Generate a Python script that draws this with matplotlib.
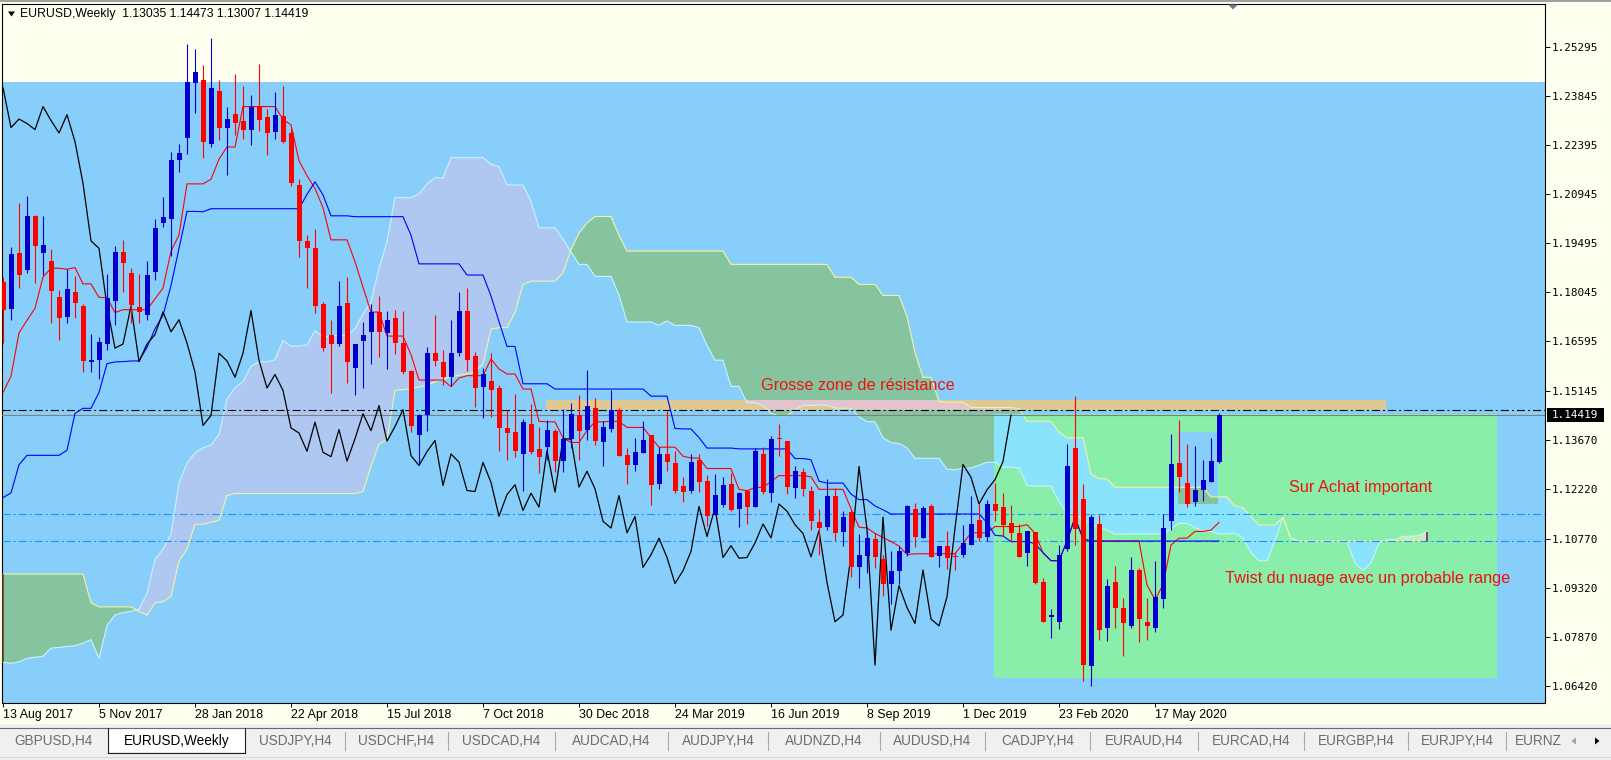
import numpy as np
import pandas as pd
import matplotlib
matplotlib.use("Agg")
import matplotlib.pyplot as plt
import matplotlib.transforms as mtransforms
from matplotlib.patches import Rectangle, Polygon
from matplotlib.lines import Line2D

plt.rcParams["font.family"] = ["Liberation Sans", "DejaVu Sans"]
plt.rcParams["lines.scale_dashes"] = False

W, H = 1611, 760

# EURUSD weekly candles, first bar = week of 13 Aug 2017
first_week = "2017-08-13"
opens = [
    1.1835, 1.1755, 1.1920, 1.1870, 1.2030, 1.1922, 1.1896, 1.1791, 1.1731, 1.1807,
    1.1763, 1.1599, 1.1606, 1.1651, 1.1780, 1.1925, 1.1862, 1.1762, 1.1738, 1.1864,
    1.2011, 1.2023, 1.2196, 1.2261, 1.2425, 1.2434, 1.2242, 1.2400, 1.2292, 1.2333,
    1.2312, 1.2286, 1.2352, 1.2322, 1.2280, 1.2327, 1.2276, 1.2123, 1.1957, 1.1935,
    1.1770, 1.1679, 1.1652, 1.1772, 1.1582, 1.1660, 1.1688, 1.1747, 1.1685, 1.1730,
    1.1656, 1.1571, 1.1382, 1.1441, 1.1625, 1.1598, 1.1554, 1.1625, 1.1751, 1.1618,
    1.1525, 1.1544, 1.1522, 1.1404, 1.1391, 1.1327, 1.1416, 1.1342, 1.1347, 1.1396,
    1.1306, 1.1372, 1.1441, 1.1398, 1.1463, 1.1362, 1.1401, 1.1456, 1.1325, 1.1293,
    1.1331, 1.1382, 1.1237, 1.1327, 1.1301, 1.1231, 1.1217, 1.1310, 1.1248, 1.1148,
    1.1177, 1.1238, 1.1165, 1.1217, 1.1170, 1.1327, 1.1211, 1.1374, 1.1364, 1.1226,
    1.1273, 1.1219, 1.1127, 1.1110, 1.1204, 1.1096, 1.1155, 1.0992, 1.1026, 1.1076,
    1.1016, 1.0944, 1.0982, 1.1033, 1.1164, 1.1080, 1.1174, 1.1024, 1.1056, 1.1024,
    1.1029, 1.1059, 1.1132, 1.1083, 1.1179, 1.1171, 1.1123, 1.1093, 1.1033, 1.1097,
    1.0949, 1.0844, 1.0829, 1.1046, 1.1345, 1.1194, 1.0701, 1.1120, 1.0814, 1.0949,
    1.0871, 1.0819, 1.0984, 1.0831, 1.0812, 1.0897, 1.1130, 1.1301, 1.1241, 1.1184,
    1.1221, 1.1244, 1.13035,
]
highs = [
    1.1850, 1.1939, 1.2069, 1.2091, 1.2032, 1.2030, 1.1932, 1.1811, 1.1874, 1.1852,
    1.1770, 1.1683, 1.1673, 1.1859, 1.1942, 1.1959, 1.1876, 1.1859, 1.1898, 1.2023,
    1.2087, 1.2219, 1.2242, 1.2538, 1.2524, 1.2477, 1.2556, 1.2434, 1.2354, 1.2449,
    1.2416, 1.2389, 1.2480, 1.2347, 1.2398, 1.2414, 1.2290, 1.2139, 1.1975, 1.1992,
    1.1775, 1.1724, 1.1837, 1.1850, 1.1652, 1.1718, 1.1769, 1.1793, 1.1749, 1.1754,
    1.1749, 1.1575, 1.1446, 1.1643, 1.1737, 1.1635, 1.1724, 1.1805, 1.1819, 1.1628,
    1.1580, 1.1625, 1.1530, 1.1458, 1.1503, 1.1430, 1.1475, 1.1406, 1.1428, 1.1400,
    1.1460, 1.1477, 1.1500, 1.1574, 1.1493, 1.1424, 1.1517, 1.1464, 1.1345, 1.1375,
    1.1424, 1.1382, 1.1347, 1.1453, 1.1335, 1.1260, 1.1327, 1.1327, 1.1266, 1.1268,
    1.1258, 1.1270, 1.1214, 1.1217, 1.1345, 1.1347, 1.1381, 1.1416, 1.1366, 1.1290,
    1.1286, 1.1231, 1.1165, 1.1253, 1.1227, 1.1158, 1.1160, 1.1089, 1.1095, 1.1093,
    1.1029, 1.1041, 1.1054, 1.1176, 1.1181, 1.1174, 1.1179, 1.1056, 1.1100, 1.1036,
    1.1118, 1.1204, 1.1179, 1.1192, 1.1241, 1.1211, 1.1177, 1.1120, 1.1100, 1.1097,
    1.0960, 1.0869, 1.1058, 1.1357, 1.1497, 1.1238, 1.1150, 1.1148, 1.0957, 1.0997,
    1.0901, 1.1023, 1.0990, 1.0901, 1.1012, 1.1150, 1.1386, 1.1426, 1.1357, 1.1352,
    1.1308, 1.1375, 1.14473,
]
lows = [
    1.1655, 1.1724, 1.1817, 1.1862, 1.1832, 1.1857, 1.1713, 1.1665, 1.1713, 1.1728,
    1.1569, 1.1569, 1.1548, 1.1633, 1.1707, 1.1805, 1.1713, 1.1713, 1.1722, 1.1841,
    1.1998, 1.1913, 1.2160, 1.2213, 1.2334, 1.2203, 1.2233, 1.2255, 1.2152, 1.2270,
    1.2258, 1.2239, 1.2282, 1.2211, 1.2258, 1.2245, 1.2120, 1.1908, 1.1819, 1.1744,
    1.1630, 1.1506, 1.1645, 1.1537, 1.1501, 1.1523, 1.1594, 1.1613, 1.1579, 1.1623,
    1.1564, 1.1391, 1.1298, 1.1396, 1.1586, 1.1530, 1.1527, 1.1618, 1.1572, 1.1466,
    1.1433, 1.1436, 1.1337, 1.1308, 1.1317, 1.1219, 1.1327, 1.1270, 1.1310, 1.1273,
    1.1273, 1.1345, 1.1310, 1.1367, 1.1355, 1.1290, 1.1391, 1.1320, 1.1237, 1.1278,
    1.1330, 1.1177, 1.1222, 1.1276, 1.1211, 1.1186, 1.1211, 1.1214, 1.1115, 1.1146,
    1.1170, 1.1158, 1.1110, 1.1120, 1.1170, 1.1209, 1.1184, 1.1322, 1.1209, 1.1197,
    1.1202, 1.1103, 1.1029, 1.1102, 1.1069, 1.1054, 1.0964, 1.0931, 1.0974, 1.0990,
    1.0908, 1.0883, 1.0943, 1.1026, 1.1051, 1.1078, 1.1021, 1.0992, 1.0987, 1.0984,
    1.1023, 1.1059, 1.1071, 1.1071, 1.1128, 1.1086, 1.1066, 1.1021, 1.0995, 1.0944,
    1.0829, 1.0782, 1.0809, 1.1041, 1.1058, 1.0655, 1.0642, 1.0777, 1.0773, 1.0814,
    1.0730, 1.0814, 1.0770, 1.0778, 1.0802, 1.0873, 1.1102, 1.1214, 1.1171, 1.1174,
    1.1187, 1.1244, 1.13007,
]
closes = [
    1.1752, 1.1917, 1.1857, 1.2030, 1.1943, 1.1944, 1.1808, 1.1730, 1.1815, 1.1773,
    1.1602, 1.1606, 1.1658, 1.1787, 1.1923, 1.1892, 1.1767, 1.1746, 1.1857, 1.1996,
    1.2029, 1.2197, 1.2217, 1.2428, 1.2455, 1.2249, 1.2410, 1.2292, 1.2317, 1.2304,
    1.2286, 1.2354, 1.2313, 1.2276, 1.2330, 1.2250, 1.2127, 1.1957, 1.1935, 1.1764,
    1.1640, 1.1652, 1.1764, 1.1600, 1.1652, 1.1680, 1.1747, 1.1688, 1.1724, 1.1655,
    1.1569, 1.1411, 1.1441, 1.1625, 1.1602, 1.1554, 1.1625, 1.1751, 1.1604, 1.1522,
    1.1562, 1.1515, 1.1404, 1.1389, 1.1335, 1.1421, 1.1332, 1.1319, 1.1399, 1.1306,
    1.1372, 1.1446, 1.1396, 1.1470, 1.1365, 1.1408, 1.1458, 1.1322, 1.1293, 1.1334,
    1.1367, 1.1234, 1.1327, 1.1303, 1.1219, 1.1216, 1.1302, 1.1243, 1.1143, 1.1207,
    1.1236, 1.1160, 1.1211, 1.1170, 1.1337, 1.1214, 1.1372, 1.1371, 1.1229, 1.1276,
    1.1224, 1.1128, 1.1108, 1.1204, 1.1094, 1.1142, 1.0992, 1.1029, 1.1078, 1.1021,
    1.0944, 1.0982, 1.1039, 1.1172, 1.1083, 1.1168, 1.1021, 1.1056, 1.1019, 1.1021,
    1.1064, 1.1120, 1.1079, 1.1179, 1.1158, 1.1118, 1.1092, 1.1023, 1.1100, 1.0947,
    1.0831, 1.0851, 1.1028, 1.1290, 1.1105, 1.0703, 1.1140, 1.0806, 1.0938, 1.0873,
    1.0826, 1.0984, 1.0839, 1.0819, 1.0905, 1.1108, 1.1296, 1.1258, 1.1179, 1.1221,
    1.1251, 1.1305, 1.14419,
]

# Ichimoku values at the left edge, which depend on weeks before the chart
tenkan_head = [1.1509, 1.1557, 1.1685, 1.1722, 1.1758, 1.1850, 1.1876, 1.1876]
kijun_head = [
    1.1198, 1.1212, 1.1295, 1.1323, 1.1323, 1.1323, 1.1323, 1.1323, 1.1338, 1.1447,
    1.1462, 1.1462, 1.1509, 1.1594, 1.1599, 1.1600, 1.1602, 1.1602, 1.1642, 1.1697,
    1.1737, 1.1825, 1.1935, 1.2044, 1.2044,
]
span_a_head = [
    1.0712, 1.0708, 1.0712, 1.0723, 1.0726, 1.0729, 1.0753, 1.0755, 1.0758, 1.0760,
    1.0768, 1.0778, 1.0723, 1.0820, 1.0851, 1.0858, 1.0862, 1.0868, 1.0915, 1.1015,
    1.1046, 1.1090, 1.1241, 1.1300, 1.1330, 1.1345,
]
span_b_head = [
    1.0972, 1.0972, 1.0972, 1.0972, 1.0972, 1.0972, 1.0972, 1.0972, 1.0972, 1.0972,
    1.0972, 1.0887, 1.0875, 1.0875, 1.0875, 1.0875, 1.0875, 1.0862, 1.0850, 1.0887,
    1.0890, 1.0906, 1.1010, 1.1046, 1.1119, 1.1119, 1.1125, 1.1131, 1.1204, 1.1210,
    1.1210, 1.1210, 1.1210, 1.1210, 1.1210, 1.1210, 1.1210, 1.1210, 1.1210, 1.1210,
    1.1210, 1.1210, 1.1210, 1.1210, 1.1210, 1.1216, 1.1290, 1.1357, 1.1368, 1.1515,
    1.1517, 1.1520, 1.1525, 1.1530, 1.1540, 1.1548, 1.1555, 1.1560, 1.1563, 1.1570,
    1.1593, 1.1696, 1.1700, 1.1701, 1.1745, 1.1828, 1.1838, 1.1838, 1.1838, 1.1838,
    1.1862, 1.1931, 1.1980, 1.2010, 1.2029, 1.2029, 1.2029,
]

date_labels = ["13 Aug 2017", "5 Nov 2017", "28 Jan 2018", "22 Apr 2018", "15 Jul 2018",
               "7 Oct 2018", "30 Dec 2018", "24 Mar 2019", "16 Jun 2019", "8 Sep 2019",
               "1 Dec 2019", "23 Feb 2020", "17 May 2020"]
price_ticks = [1.25295, 1.23845, 1.22395, 1.20945, 1.19495, 1.18045, 1.16595,
               1.15145, 1.13670, 1.12220, 1.10770, 1.09320, 1.07870, 1.06420]

# drawn objects of the chart
resist_zone = (1.1458, 1.1488)
blue_hlines = [1.1150, 1.1071]
black_hline = 1.1456
green_zone = ("2019-12-29", "2021-03-14", 1.0664, 1.1446)
blue_zone = ("2020-06-07", "2020-07-12", 1.1179, 1.1393)
tan_zone = ("2018-12-02", "2020-12-06")
notes = [
    ("Grosse zone de résistance", "2019-06-09", 1.1516),
    ("Sur Achat important", "2020-09-13", 1.1215),
    ("Twist du nuage avec un probable range", "2020-07-19", 1.0946),
]

tabs = ["GBPUSD,H4", "EURUSD,Weekly", "USDJPY,H4", "USDCHF,H4", "USDCAD,H4", "AUDCAD,H4",
        "AUDJPY,H4", "AUDNZD,H4", "AUDUSD,H4", "CADJPY,H4", "EURAUD,H4", "EURCAD,H4",
        "EURGBP,H4", "EURJPY,H4", "EURNZ"]
tab_edges = [0, 108, 245, 345, 448, 555, 668, 768, 880, 985, 1090, 1198, 1304, 1408, 1506, 1570]
active_tab = 1
header = "EURUSD,Weekly  1.13035 1.14473 1.13007 1.14419"

# ---------------------------------------------------------------
n = len(closes)
o, h, l, c = (np.array(v) for v in (opens, highs, lows, closes))
weeks = pd.date_range(first_week, periods=n + 60, freq="7D")


def week_pos(d):
    return weeks.get_loc(pd.Timestamp(d))


def mid(i, period):
    a = max(0, i - period + 1)
    return (h[a:i + 1].max() + l[a:i + 1].min()) / 2


tenkan = np.array([tenkan_head[i] if i < len(tenkan_head) else mid(i, 9) for i in range(n)])
kijun = np.array([kijun_head[i] if i < len(kijun_head) else mid(i, 26) for i in range(n)])
kk = np.arange(n + 26)
span_a = np.array([span_a_head[k] if k < len(span_a_head)
                   else (tenkan[k - 26] + kijun[k - 26]) / 2 for k in kk])
span_b = np.array([span_b_head[k] if k < len(span_b_head) else mid(k - 26, 52) for k in kk])
x = np.arange(n)

cream = "#FFFFF0"
fig = plt.figure(figsize=(W / 100, H / 100), dpi=100, facecolor=cream)
ax = fig.add_axes([2 / W, 1 - 703 / H, 1543 / W, 699 / H])
ax.set_facecolor(cream)
ax.set_xlim(-0.125, 192.75)
ax.set_ylim(1.059084, 1.265721)


def rect(x0, x1, y0, y1, color, z):
    r = Rectangle((x0, y0), x1 - x0, y1 - y0, facecolor=color, edgecolor="none", zorder=z)
    ax.add_patch(r)
    return r


rect(-5, 200, 1.0, 1.2426, "#87CEFA", 1)
green_box = rect(week_pos(green_zone[0]) - 0.15, week_pos(green_zone[1]) - 0.25,
                 green_zone[2], green_zone[3], "#89EEA9", 2)
blue_box = rect(week_pos(blue_zone[0]) - 0.1, week_pos(blue_zone[1]) - 0.1,
                blue_zone[2], blue_zone[3], "#87CEFA", 2.1)
tan_box = rect(week_pos(tan_zone[0]) - 0.1, week_pos(tan_zone[1]) - 0.1,
               resist_zone[0], resist_zone[1], "#DEC893", 2.2)


def cloud(bull, bear, clip=None, z=3):
    for mask, col in ((span_a >= span_b, bull), (span_a < span_b, bear)):
        if col is None:
            continue
        pc = ax.fill_between(kk, span_a, span_b, where=mask, interpolate=True,
                             facecolor=col, edgecolor="none", lw=0, zorder=z)
        if clip is not None:
            pc.set_clip_path(clip)


cloud("#AFC8F2", "#86C4A0")
cloud("#C6EFAE", "#8AE3FD", green_box, 3.1)
cloud("#AFC8F2", "#86C4A0", blue_box, 3.2)
cloud(None, "#E2C4CC", tan_box, 3.3)

ax.plot(kk, span_a, color="#C8F4FF", lw=0.8, zorder=4)
ax.plot(kk, span_b, color="#F4F4A0", lw=0.8, zorder=4)
ax.vlines(kk[0] + 0.05, min(span_a[0], span_b[0]), max(span_a[0], span_b[0]),
          color="#6B3A1A", lw=1.2, zorder=4)
ax.vlines(kk[-1], min(span_a[-1], span_b[-1]), max(span_a[-1], span_b[-1]),
          color="#7A1F7A", lw=1.2, zorder=4)

dashdot = (0, (5.8, 2.2, 1.4, 2.2))
for y in blue_hlines:
    ax.axhline(y, color="#1E90FF", lw=0.8, ls=dashdot, zorder=4)
ax.axhline(black_hline, color="black", lw=0.8, ls=dashdot, zorder=4)
ax.axhline(closes[-1], color="#808080", lw=0.8, zorder=4)

ax.plot(x, tenkan, color="#FF0000", lw=0.8, zorder=5)
ax.plot(x, kijun, color="#0000FF", lw=0.8, zorder=5)
ax.plot(x[:n - 26], c[26:], color="black", lw=0.9, zorder=5)

up = c >= o
col = np.where(up, "#0000CC", "#FF0000")
ax.vlines(x, l, h, colors=col, lw=0.8, zorder=6)
ax.bar(x, np.maximum(np.abs(c - o), 0.0003), bottom=np.minimum(o, c), width=0.625,
       color=col, lw=0, zorder=6)

for txt, d, y in notes:
    ax.text(week_pos(d) - 0.25, y, txt, color="#EE1111", fontsize=11.7,
            va="baseline", ha="left", zorder=7)

for s in ax.spines.values():
    s.set_linewidth(0.8)
    s.set_color("black")

ax.set_yticks(price_ticks, [f"{p:.5f}" for p in price_ticks])
ax.yaxis.tick_right()
ax.tick_params(axis="y", direction="out", length=3.6, width=0.7, pad=1.4,
               labelsize=7.9, labelfontfamily="DejaVu Sans Mono", colors="black")
date_pos = [week_pos(pd.to_datetime(d, format="%d %b %Y")) for d in date_labels]
ax.set_xticks(date_pos, date_labels)
ax.tick_params(axis="x", direction="out", length=2.9, width=0.7, pad=1.2,
               labelsize=8.9, colors="black")
for t in ax.get_xticklabels():
    t.set_ha("left")

# current price box
blend = mtransforms.blended_transform_factory(fig.transFigure, ax.transData)
box_h = 14 * 0.00029562
fig.add_artist(Rectangle((1547 / W, closes[-1] - box_h / 2), 57 / W, box_h,
                         transform=blend, facecolor="black", edgecolor="none"))
fig.text(1552 / W, closes[-1], f"{closes[-1]:.5f}", transform=blend, color="white",
         fontsize=7.9, family="DejaVu Sans Mono", va="center", ha="left")


# window furniture in pixel coordinates
def fpoly(pts, color):
    fig.add_artist(Polygon([(px / W, 1 - py / H) for px, py in pts], closed=True,
                           transform=fig.transFigure, facecolor=color, edgecolor="none"))


def frect(x0, y0, x1, y1, color):
    fig.add_artist(Rectangle((x0 / W, 1 - y1 / H), (x1 - x0) / W, (y1 - y0) / H,
                             transform=fig.transFigure, facecolor=color, edgecolor="none"))


def fline(x0, y0, x1, y1, color, lw=0.8):
    fig.add_artist(Line2D([x0 / W, x1 / W], [1 - y0 / H, 1 - y1 / H],
                          transform=fig.transFigure, color=color, lw=lw))


frect(0, 0, W, 1.5, "#A0A0A0")
fpoly([(8, 11.5), (15, 11.5), (11.5, 16.5)], "black")
fig.text(20.5 / W, 1 - 14.5 / H, header, fontsize=8.8, va="center", ha="left", color="black")
fpoly([(1228, 4.5), (1238, 4.5), (1233, 9.5)], "#6E7B8B")

frect(0, 724, W, H, "#F0F0F0")
fline(0, 727.5, W, 727.5, "#6A6A6A")
a0, a1 = tab_edges[active_tab], tab_edges[active_tab + 1]
frect(a0, 728, a1, 752, "white")
fline(a0, 727.5, a0, 752.5, "#202020")
fline(a1, 727.5, a1, 752.5, "#202020")
fline(a0, 752.5, a1, 752.5, "#202020")
fline(0, 756.5, W, 756.5, "#D8D8D8")
for e in tab_edges[3:-1]:
    fline(e, 732, e, 750, "#A8A8A8")
for i, name in enumerate(tabs):
    cx = (tab_edges[i] + tab_edges[i + 1]) / 2
    fig.text(cx / W, 1 - 741 / H, name, fontsize=9.8, va="center", ha="center",
             color="black" if i == active_tab else "#6D6D6D")
fpoly([(1576, 737.5), (1576, 744.5), (1571.5, 741)], "#A0A0A0")
fpoly([(1595, 737.5), (1595, 744.5), (1599.5, 741)], "black")

fig.savefig("out.png", dpi=100, facecolor=cream)
